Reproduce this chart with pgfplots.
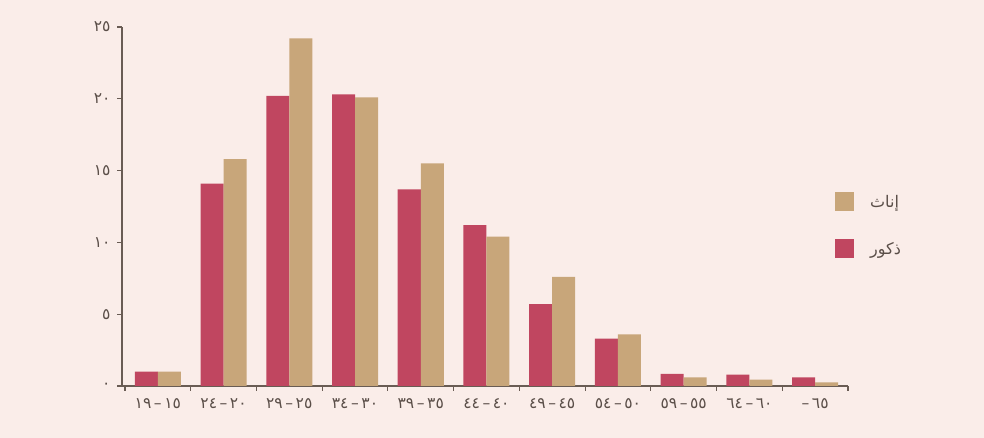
\documentclass[border=0pt]{standalone}
\usepackage{pgfplots}
\pgfplotsset{compat=1.18}
\usepackage{fontspec}
\setmainfont{DejaVu Sans}
\newfontfamily\arabicfont[Script=Arabic]{DejaVu Sans}
\TeXXeTstate=1
\definecolor{bg}{RGB}{250,237,233}
\definecolor{male}{RGB}{192,70,96}
\definecolor{female}{RGB}{200,166,122}
\definecolor{axisc}{RGB}{105,92,84}
\definecolor{txt}{RGB}{90,78,72}
\newcommand{\rng}[2]{\mbox{\arabicfont #1}\mbox{\arabicfont\,–\,}\mbox{\arabicfont #2}}
\begin{document}
\begin{tikzpicture}[x=1pt,y=1pt]
\fill[bg] (0,0) rectangle (984,438);
\begin{axis}[
  at={(122pt,52pt)}, anchor=south west,
  scale only axis, width=726pt, height=359pt,
  xmin=-0.545, xmax=10.5, ymin=0, ymax=25,
  axis lines=left, axis line style={-, axisc, line width=1.3pt},
  tick align=outside, major tick length=5pt,
  tick style={axisc, line width=1.1pt},
  ytick={0,5,10,15,20,25},
  yticklabels={٠,٥,١٠,١٥,٢٠,٢٥},
  yticklabel style={font=\arabicfont\fontsize{15.5}{15.5}\selectfont, text=txt, xshift=-3pt},
  xtick={-0.5,0.5,1.5,2.5,3.5,4.5,5.5,6.5,7.5,8.5,9.5,10.5},
  xticklabels={\rng{١٩}{١٥},\rng{٢٤}{٢٠},\rng{٢٩}{٢٥},\rng{٣٤}{٣٠},\rng{٣٩}{٣٥},\rng{٤٤}{٤٠},\rng{٤٩}{٤٥},\rng{٥٤}{٥٠},\rng{٥٩}{٥٥},\rng{٦٤}{٦٠},\mbox{\arabicfont –\,}\mbox{\arabicfont ٦٥},{}},
  xticklabel style={font=\arabicfont\fontsize{15.5}{15.5}\selectfont, text=txt, xshift=32.85pt, yshift=-4pt},
  ybar=0pt, bar width=0.35,
  reverse legend,
  legend cell align=left,
  legend image code/.code={\fill[#1] (0pt,-9.5pt) rectangle (19pt,9.5pt); \path (33pt,0pt);},
  legend style={draw=none, fill=none, at={(0.982,0.54)}, anchor=north west,
    font=\arabicfont\fontsize{16}{16}\selectfont, text=txt, row sep=28pt,
    inner sep=0pt},
]
\addplot[fill=male, draw=none] coordinates {(0,1.0) (1,14.1) (2,20.2) (3,20.3) (4,13.7) (5,11.2) (6,5.7) (7,3.3) (8,0.85) (9,0.8) (10,0.6)};
\addlegendentry{\beginR ذكور\endR}
\addplot[fill=female, draw=none] coordinates {(0,1.0) (1,15.8) (2,24.2) (3,20.1) (4,15.5) (5,10.4) (6,7.6) (7,3.6) (8,0.6) (9,0.45) (10,0.25)};
\addlegendentry{\beginR إناث\endR}
\end{axis}
\end{tikzpicture}
\end{document}
